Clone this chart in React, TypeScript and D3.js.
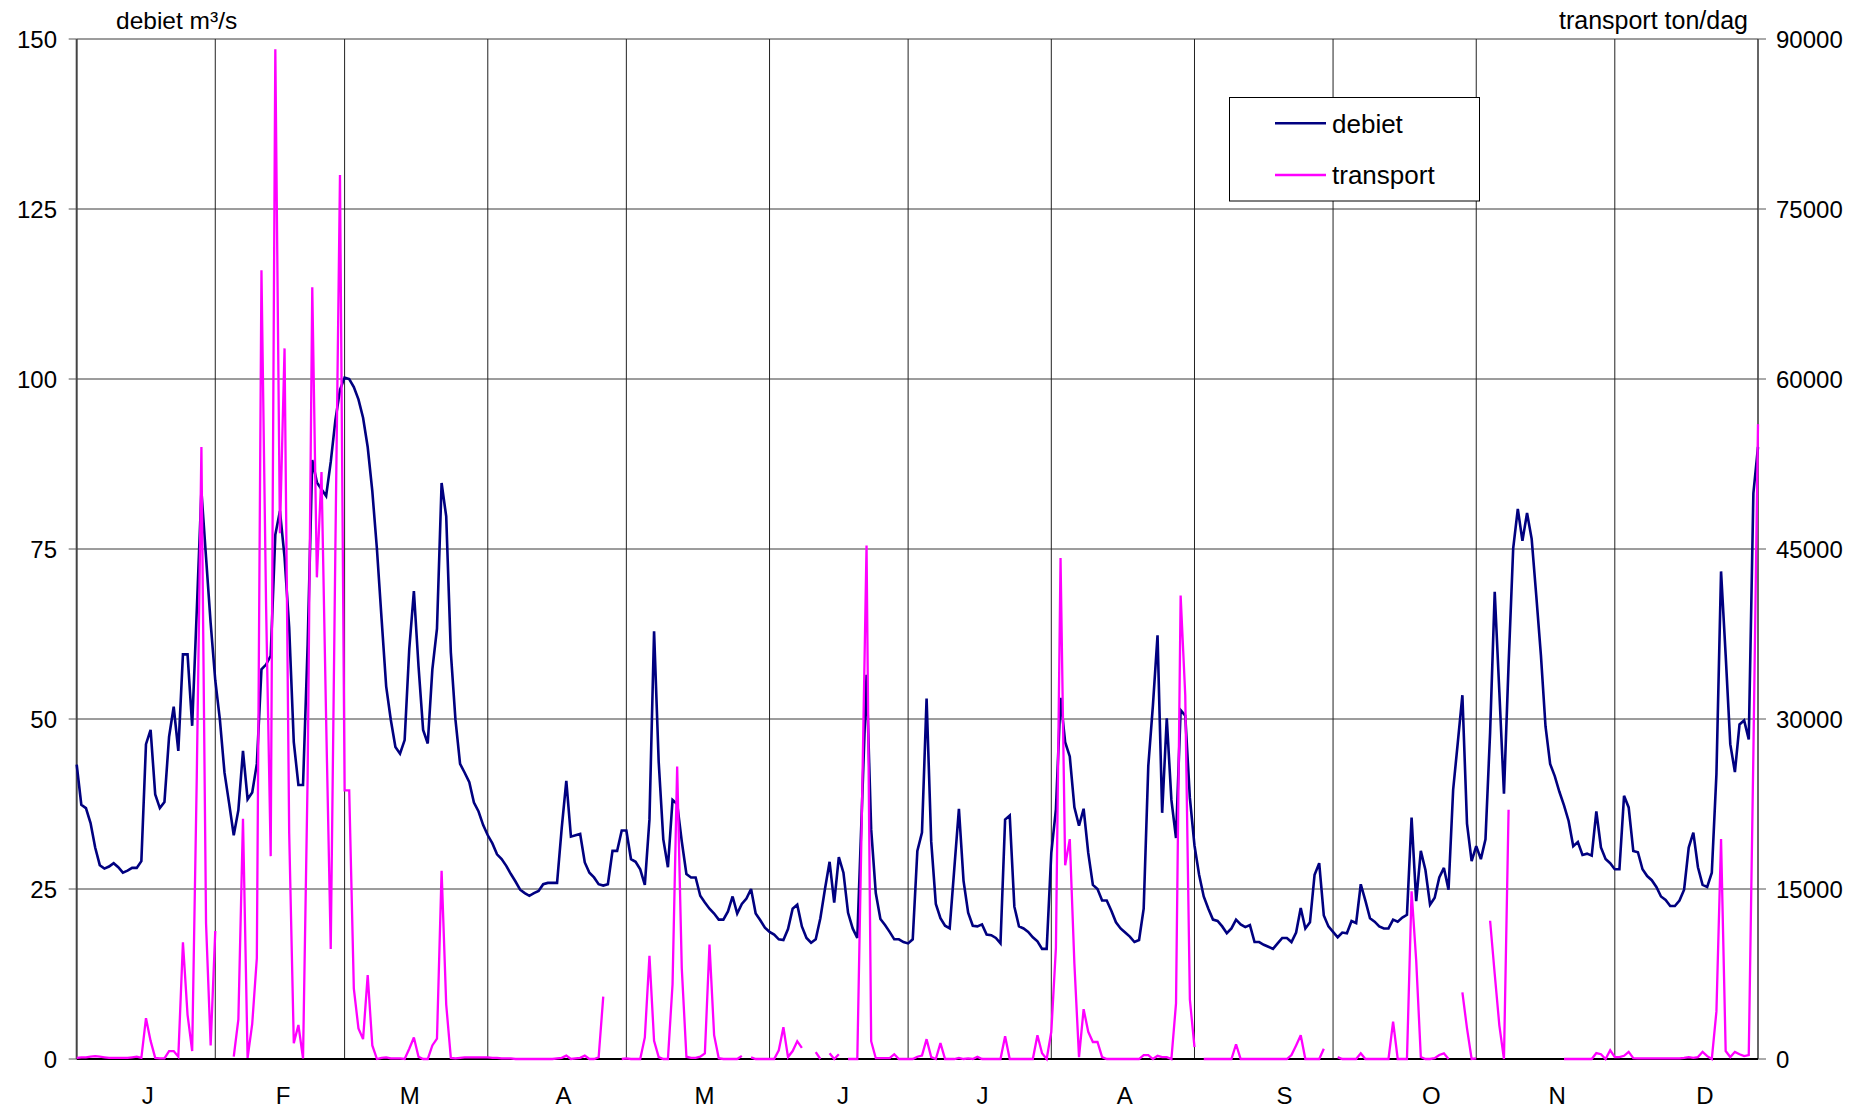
import React from "react";
import * as d3 from "d3";

const monthLabels = ["J", "F", "M", "A", "M", "J", "J", "A", "S", "O", "N", "D"];
const monthDays = [31, 28, 31, 30, 31, 30, 31, 31, 30, 31, 30, 31];
// day-of-year (0-based) where each month letter sits on the axis
const monthLabelDays = [15.4, 44.7, 72.1, 105.4, 135.9, 165.9, 196.1, 226.9, 261.5, 293.3, 320.5, 352.5];
const debietTicks = [0, 25, 50, 75, 100, 125, 150];
const transportTicks = [0, 15000, 30000, 45000, 60000, 75000, 90000];

// daily discharge (m³/s), day index 0 = 1 Jan
const debiet: number[] = [
  43.3, 37.4, 36.9, 34.7, 31.1, 28.5, 28.0, 28.3, 28.8, 28.2,
  27.4, 27.7, 28.1, 28.1, 29.1, 46.3, 48.4, 38.9, 36.9, 37.8,
  47.4, 51.8, 45.3, 59.5, 59.5, 49.0, 66.0, 83.5, 73.8, 64.1,
  55.7, 49.9, 42.1, 37.6, 32.9, 36.6, 45.3, 38.2, 39.2, 43.4,
  57.3, 58.0, 59.3, 77.1, 80.6, 73.8, 63.5, 46.6, 40.3, 40.3,
  60.9, 88.1, 84.8, 83.8, 82.8, 87.8, 93.9, 98.4, 100.2, 100.0,
  98.8, 97.0, 94.3, 90.0, 83.5, 75.0, 64.8, 54.8, 49.9, 45.9,
  44.9, 46.9, 60.3, 68.8, 57.8, 48.4, 46.4, 57.3, 63.3, 84.7,
  79.8, 59.8, 49.9, 43.4, 42.1, 40.7, 37.7, 36.4, 34.4, 32.9,
  31.7, 30.1, 29.4, 28.4, 27.2, 26.1, 24.9, 24.4, 24.0, 24.4,
  24.7, 25.7, 25.9, 25.9, 25.9, 33.9, 40.9, 32.7, 32.9, 33.1,
  28.9, 27.4, 26.7, 25.7, 25.5, 25.7, 30.6, 30.6, 33.6, 33.6,
  29.4, 29.0, 27.9, 25.6, 35.2, 62.9, 43.7, 32.3, 28.2, 38.1,
  37.5, 32.0, 27.2, 26.7, 26.7, 24.0, 23.0, 22.1, 21.4, 20.5,
  20.5, 21.7, 23.9, 21.4, 22.8, 23.6, 25.0, 21.4, 20.4, 19.3,
  18.7, 18.3, 17.6, 17.5, 19.1, 22.1, 22.7, 19.5, 17.8, 17.1,
  17.6, 20.7, 25.0, 29.0, 23.0, 29.7, 27.4, 21.5, 19.2, 17.8,
  37.0, 56.5, 33.8, 24.4, 20.6, 19.7, 18.7, 17.6, 17.6, 17.2,
  17.0, 17.6, 30.6, 33.3, 53.0, 32.0, 22.8, 20.7, 19.6, 19.2,
  28.0, 36.8, 26.2, 21.5, 19.6, 19.5, 19.8, 18.3, 18.2, 17.8,
  17.0, 35.2, 35.8, 22.4, 19.5, 19.2, 18.7, 17.9, 17.3, 16.2,
  16.2, 30.3, 36.7, 53.1, 46.6, 44.5, 37.0, 34.3, 36.8, 30.3,
  25.6, 25.0, 23.3, 23.3, 21.8, 20.1, 19.2, 18.6, 18.0, 17.2,
  17.5, 22.1, 43.1, 52.0, 62.3, 36.2, 50.1, 38.1, 32.5, 51.3,
  50.5, 38.4, 31.4, 27.1, 23.9, 22.1, 20.5, 20.3, 19.5, 18.5,
  19.2, 20.5, 19.8, 19.4, 19.7, 17.2, 17.2, 16.8, 16.5, 16.2,
  17.0, 17.8, 17.8, 17.2, 18.6, 22.2, 19.2, 20.1, 27.1, 28.8,
  21.1, 19.5, 18.7, 17.9, 18.6, 18.5, 20.3, 20.0, 25.7, 23.3,
  20.7, 20.2, 19.5, 19.2, 19.2, 20.5, 20.2, 20.8, 21.2, 35.5,
  23.2, 30.6, 27.8, 22.7, 23.7, 26.7, 28.1, 24.9, 39.6, 46.5,
  53.5, 34.6, 29.1, 31.3, 29.4, 32.3, 48.0, 68.7, 54.0, 39.0,
  58.0, 75.1, 80.9, 76.2, 80.3, 76.5, 68.1, 59.4, 48.9, 43.4,
  41.6, 39.3, 37.3, 35.0, 31.3, 31.9, 30.0, 30.2, 29.9, 36.4,
  31.1, 29.4, 28.8, 27.9, 27.9, 38.7, 37.0, 30.6, 30.4, 27.9,
  26.9, 26.3, 25.3, 23.9, 23.4, 22.5, 22.5, 23.3, 24.9, 31.1,
  33.3, 28.2, 25.6, 25.3, 27.4, 41.9, 71.7, 59.4, 46.3, 42.2,
  49.2, 49.8, 47.0, 83.2, 90.0,
];

// daily sediment transport (ton/dag), null = no measurement
const transport: (number | null)[] = [
  100, 150, 150, 200, 250, 200, 150, 100, 100, 100,
  100, 100, 150, 200, 100, 3600, 1600, 100, 50, 50,
  700, 700, 200, 10300, 3900, 700, 25000, 54000, 12000, 1200,
  11300, null, null, null, 200, 3500, 21200, 100, 3100, 8900,
  69600, 40000, 17900, 89100, 46400, 62700, 20000, 1400, 3000, 50,
  25000, 68100, 42500, 51800, 30000, 9700, 45000, 78000, 23700, 23700,
  6200, 2700, 1750, 7400, 1200, 0, 100, 150, 50, 50,
  50, 0, 900, 1900, 200, 0, 0, 1200, 1800, 16600,
  4800, 100, 50, 100, 150, 150, 150, 150, 150, 150,
  100, 100, 50, 50, 50, 0, 0, 0, 0, 0,
  0, 0, 0, 0, 50, 100, 300, 0, 50, 100,
  300, 0, 0, 150, 5500, null, null, null, 0, 50,
  0, 0, 0, 1900, 9100, 1600, 170, 0, 0, 6600,
  25800, 8000, 200, 100, 100, 200, 500, 10100, 2100, 70,
  0, 0, 0, 0, 280, null, 150, 0, 0, 0,
  0, 0, 770, 2800, 170, 700, 1570, 980, null, null,
  600, 0, null, 500, 0, 420, null, 0, 0, 0,
  22000, 45300, 1570, 70, 70, 70, 70, 420, 0, 0,
  0, 0, 200, 300, 1750, 170, 0, 1400, 0, 0,
  0, 100, 0, 50, 0, 200, 0, 0, 0, 0,
  0, 2000, 0, 0, 0, 0, 0, 0, 2100, 500,
  0, 2400, 9800, 44200, 17100, 19400, 8400, 170, 4400, 2400,
  1500, 1500, 170, 0, 0, 0, 0, 0, 0, 0,
  0, 350, 350, 0, 280, 170, 170, 0, 4900, 40900,
  32100, 5250, 1050, null, 0, 0, 0, 0, 0, 0,
  0, 1300, 0, 0, 0, 0, 0, 0, 0, 0,
  0, 0, 0, 350, 1200, 2100, 0, 0, 0, 0,
  900, null, null, 170, 0, 0, 0, 0, 500, 0,
  0, 0, 0, 0, 0, 3300, 0, 0, 0, 14800,
  8700, 170, 0, 0, 70, 350, 500, 0, null, null,
  5870, 2700, 0, 50, null, null, 12200, 7500, 2970, 0,
  22000, null, null, null, null, null, null, null, null, null,
  null, null, 0, 0, 0, 0, 0, 0, 0, 520,
  420, 0, 770, 170, 170, 280, 630, 70, 50, 50,
  50, 50, 50, 50, 50, 50, 50, 50, 100, 170,
  100, 170, 630, 250, 0, 4200, 19400, 700, 170, 630,
  420, 250, 350, 27000, 56000,
];

const FONT = "'Liberation Sans', Arial, Helvetica, sans-serif";

export default function App() {
  const W = 1872;
  const H = 1109;
  const left = 76.7;
  const right = 1758;
  const top = 39;
  const bottom = 1059;

  const x = d3.scaleLinear().domain([0, 364]).range([left, right]);
  const y1 = d3.scaleLinear().domain([0, 150]).range([bottom, top]);
  const y2 = d3.scaleLinear().domain([0, 90000]).range([bottom, top]);

  const cum: number[] = [];
  monthDays.reduce((acc, d) => {
    cum.push(acc + d);
    return acc + d;
  }, 0);

  const debietLine = d3
    .line<number>()
    .x((_, i) => x(i))
    .y((d) => y1(d));
  const transportLine = d3
    .line<number | null>()
    .defined((d) => d !== null)
    .x((_, i) => x(i))
    .y((d) => y2(d as number));

  return (
    <svg
      width={W}
      height={H}
      style={{ position: "absolute", left: 0, top: 0, display: "block", background: "#fff" }}
      fontFamily={FONT}
    >
      <rect x={0} y={0} width={W} height={H} fill="#fff" />
      {/* horizontal gridlines */}
      {debietTicks.map((t) => (
        <line key={"h" + t} x1={left} x2={right} y1={y1(t)} y2={y1(t)} stroke="#3a3a3a" strokeWidth={1} />
      ))}
      {/* month gridlines */}
      {cum.slice(0, 11).map((c, i) => (
        <line key={"v" + i} x1={x(c - 1)} x2={x(c - 1)} y1={top} y2={bottom} stroke="#222" strokeWidth={1} />
      ))}
      {/* axes */}
      <line x1={left} x2={left} y1={top} y2={bottom} stroke="#444" strokeWidth={2} />
      <line x1={right} x2={right} y1={top} y2={bottom} stroke="#333" strokeWidth={1.5} />
      <line x1={left} x2={right} y1={bottom} y2={bottom} stroke="#000" strokeWidth={2} />
      {/* left ticks + labels */}
      {debietTicks.map((t) => (
        <g key={"lt" + t}>
          <line x1={left - 8} x2={left} y1={y1(t)} y2={y1(t)} stroke="#555" strokeWidth={1} />
          <text x={57} y={y1(t) + 8.5} fontSize={24} textAnchor="end" fill="#000">
            {t}
          </text>
        </g>
      ))}
      {/* right ticks + labels */}
      {transportTicks.map((t) => (
        <g key={"rt" + t}>
          <line x1={right} x2={right + 8} y1={y2(t)} y2={y2(t)} stroke="#555" strokeWidth={1} />
          <text x={1776} y={y2(t) + 8.5} fontSize={24} textAnchor="start" fill="#000">
            {t}
          </text>
        </g>
      ))}
      {/* month labels */}
      {monthLabels.map((m, i) => (
        <text key={"m" + i} x={x(monthLabelDays[i])} y={1104} fontSize={24} textAnchor="middle" fill="#000">
          {m}
        </text>
      ))}
      {/* axis titles */}
      <text x={116} y={29} fontSize={24.5} fill="#000">
        debiet m³/s
      </text>
      <text x={1748} y={28.5} fontSize={25} textAnchor="end" fill="#000">
        transport ton/dag
      </text>
      {/* series */}
      <path d={debietLine(debiet) || ""} fill="none" stroke="#000080" strokeWidth={2.6} strokeLinejoin="miter" strokeMiterlimit={3} />
      <path d={transportLine(transport) || ""} fill="none" stroke="#FF00FF" strokeWidth={2.3} strokeLinejoin="miter" strokeMiterlimit={3} />
      {/* legend */}
      <rect x={1229.5} y={97.5} width={250} height={103.5} fill="#fff" stroke="#000" strokeWidth={1} />
      <line x1={1275} x2={1326} y1={123.3} y2={123.3} stroke="#000080" strokeWidth={2.6} />
      <text x={1332} y={132.5} fontSize={26} fill="#000">
        debiet
      </text>
      <line x1={1275} x2={1326} y1={175} y2={175} stroke="#FF00FF" strokeWidth={2.3} />
      <text x={1332} y={184} fontSize={26} fill="#000">
        transport
      </text>
    </svg>
  );
}
